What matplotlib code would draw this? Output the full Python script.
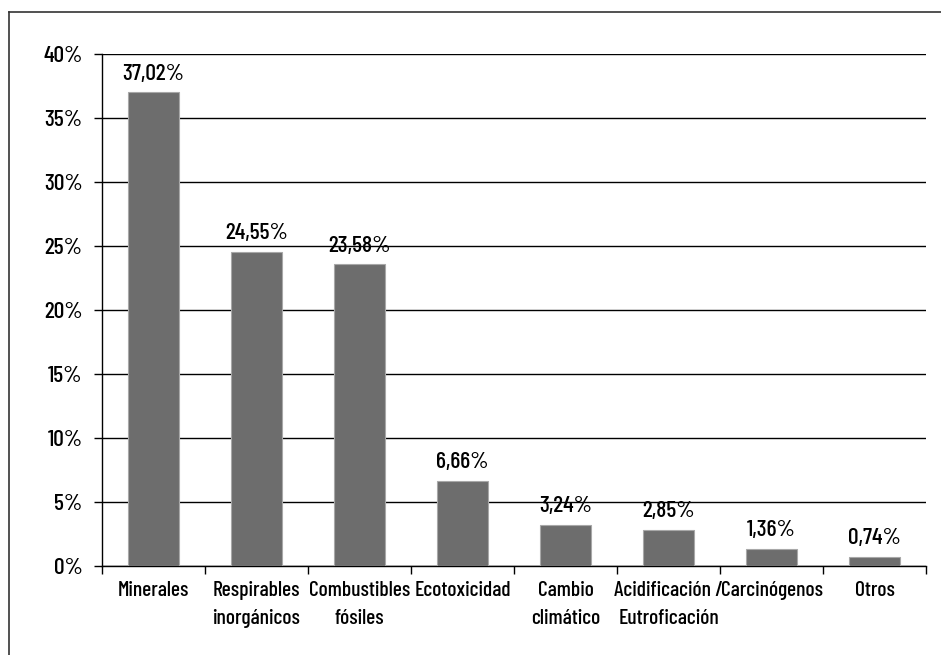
import matplotlib
matplotlib.use("Agg")
import matplotlib.pyplot as plt
from matplotlib.ticker import MultipleLocator, FuncFormatter
from matplotlib.lines import Line2D

categories = ["Minerales", "Respirables\ninorgánicos", "Combustibles\nfósiles",
              "Ecotoxicidad", "Cambio\nclimático", "Acidificación /\nEutroficación",
              "Carcinógenos", "Otros"]
values = [37.02, 24.55, 23.58, 6.66, 3.24, 2.85, 1.36, 0.74]
value_labels = ["37,02%", "24,55%", "23,58%", "6,66%", "3,24%", "2,85%", "1,36%", "0,74%"]

plt.rcParams['font.family'] = ['Barlow Condensed', 'DejaVu Sans Condensed', 'DejaVu Sans']
plt.rcParams['font.weight'] = 'medium'

fig = plt.figure(figsize=(9.41, 6.55), dpi=100)
ax = fig.add_axes([102/941, 1-566/655, (926-102)/941, (566-54)/655])

x = list(range(len(categories)))
ax.bar(x, values, width=0.5, color="#6d6d6d", edgecolor="#a8a8a8", linewidth=0.8, zorder=3)
for xi, v, lab in zip(x, values, value_labels):
    ax.annotate(lab, (xi, v), xytext=(0, 6), textcoords="offset points",
                ha="center", va="bottom", fontsize=17, color="black", zorder=4)

ax.set_xlim(-0.5, len(categories) - 0.5)
ax.set_ylim(0, 40)
ax.yaxis.set_major_locator(MultipleLocator(5))
ax.yaxis.set_major_formatter(FuncFormatter(lambda v, p: f"{int(v)}%"))
ax.grid(axis="y", color="black", linewidth=1.0, zorder=1)

ax.set_xticks(x)
ax.set_xticklabels(categories, fontsize=15.5, linespacing=1.55)
ax.tick_params(axis="x", length=0, pad=11)
ax.set_xticks([i - 0.5 for i in range(len(categories) + 1)], minor=True)
ax.tick_params(axis="x", which="minor", length=6, width=1, color="black", direction="out")
ax.tick_params(axis="y", length=6, width=1, direction="out", labelsize=17, pad=8)

for s in ["top", "right"]:
    ax.spines[s].set_visible(False)
ax.spines["left"].set_linewidth(1.0)
ax.spines["bottom"].set_linewidth(1.0)

# figure border (left and top visible)
fig.add_artist(Line2D([9/941, 9/941], [0, 1-12/655], transform=fig.transFigure, color="#333333", linewidth=1.2))
fig.add_artist(Line2D([9/941, 1], [1-12/655, 1-12/655], transform=fig.transFigure, color="#333333", linewidth=1.2))

fig.savefig("out.png", dpi=100)
